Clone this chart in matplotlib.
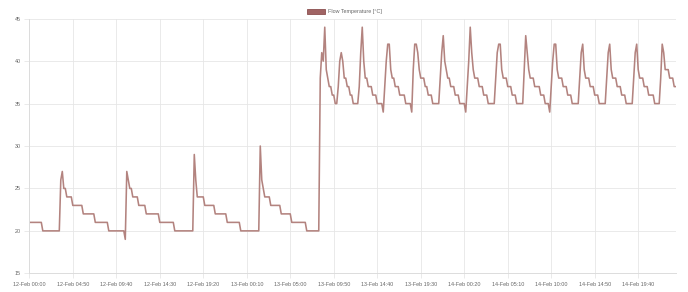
import numpy as np
import matplotlib
matplotlib.use("Agg")
import matplotlib.pyplot as plt
from matplotlib.patches import Patch
from datetime import datetime, timedelta

# ---- data (10-minute samples, run-length encoded: value, number of samples) ----
series_name = "Flow Temperature [°C]"
start_time = datetime(2024, 2, 12, 0, 0)
step_minutes = 10

run_values = [
    21, 20, 26, 27, 25, 24, 23, 22, 21, 20,
    19, 27, 26, 25, 24, 23, 22, 21, 20,
    29, 26, 24, 23, 22, 21, 20,
    30, 26, 25, 24, 23, 22, 21, 20,
    38, 41, 40, 44, 39, 38, 37, 36, 35,
    37, 40, 41, 40, 38, 37, 36, 35,
    37, 41, 44, 40, 38, 37, 36, 35, 34,
    37, 40, 42, 39, 38, 37, 36, 35, 34,
    39, 42, 41, 39, 38, 37, 36, 35,
    38, 41, 43, 40, 39, 38, 37, 36, 35, 34,
    37, 40, 44, 41, 39, 38, 37, 36, 35,
    38, 41, 42, 39, 38, 37, 36, 35,
    39, 43, 41, 39, 38, 37, 36, 35, 34,
    37, 40, 42, 39, 38, 37, 36, 35,
    38, 41, 42, 39, 38, 37, 36, 35,
    38, 41, 42, 39, 38, 37, 36, 35,
    38, 41, 42, 39, 38, 37, 36, 35,
    38, 42, 41, 39, 38, 37,
]
run_counts = [
    9, 12, 1, 1, 2, 4, 7, 8, 9, 11,
    1, 1, 1, 2, 4, 5, 9, 10, 13,
    1, 1, 5, 7, 8, 9, 13,
    1, 1, 1, 4, 7, 7, 10, 9,
    1, 1, 1, 1, 1, 1, 2, 2, 2,
    1, 1, 1, 1, 2, 2, 2, 4,
    1, 1, 1, 1, 2, 3, 3, 4, 1,
    1, 1, 2, 1, 2, 3, 4, 4, 1,
    1, 2, 1, 1, 3, 2, 3, 5,
    1, 1, 1, 1, 1, 2, 3, 3, 4, 1,
    1, 1, 1, 1, 1, 3, 3, 3, 5,
    1, 1, 2, 1, 3, 3, 3, 5,
    1, 1, 1, 1, 3, 4, 3, 3, 1,
    1, 1, 2, 1, 3, 3, 3, 5,
    1, 1, 1, 1, 3, 3, 3, 5,
    1, 1, 1, 1, 3, 3, 3, 5,
    1, 1, 1, 1, 3, 3, 4, 4,
    1, 1, 1, 3, 3, 2,
]

tick_every = 29  # a label shown every 29 samples (4 h 50 min)

# ---- build series ----
values = np.repeat(run_values, run_counts)
n = len(values)
times = [start_time + timedelta(minutes=step_minutes * i) for i in range(n)]
labels = [t.strftime("%d-%b %H:%M") for t in times]
x = np.arange(n)

# ---- figure ----
fig = plt.figure(figsize=(6.88, 2.92), dpi=100)
ax = fig.add_axes([29.3 / 688, 1 - 273.3 / 292, (675.7 - 29.3) / 688, (273.3 - 18.7) / 292])

line_color = "#b3837f"
ax.plot(x, values, color=line_color, linewidth=1.15, solid_joinstyle="round")

ax.set_xlim(0, n - 1)
ax.set_ylim(15, 45)
ax.set_yticks([15, 20, 25, 30, 35, 40, 45])
tick_pos = list(range(0, n, tick_every))
ax.set_xticks(tick_pos)
ax.set_xticklabels([labels[i] for i in tick_pos])

font = "Liberation Sans"
for lab in ax.get_xticklabels() + ax.get_yticklabels():
    lab.set_fontfamily(font)
    lab.set_fontsize(3.9)
    lab.set_color("#666666")

grid_c = "#e6e6e6"
ax.grid(True, color=grid_c, linewidth=0.6)
ax.set_axisbelow(True)
ax.tick_params(axis="both", length=3.5, width=0.6, color=grid_c, pad=2.5)
for side in ["top", "right"]:
    ax.spines[side].set_visible(False)
for side in ["left", "bottom"]:
    ax.spines[side].set_color("#dcdcdc")
    ax.spines[side].set_linewidth(0.7)

handle = Patch(facecolor="#a06464", edgecolor="#8c5050", linewidth=0.6)
fig.legend([handle], [series_name], loc="center", bbox_to_anchor=(344 / 688, 1 - 11.5 / 292),
           frameon=False, prop={"family": font, "size": 3.9}, handlelength=3.4, handleheight=1.0,
           handletextpad=0.5, labelcolor="#666666")

fig.savefig("out.png", dpi=100)
